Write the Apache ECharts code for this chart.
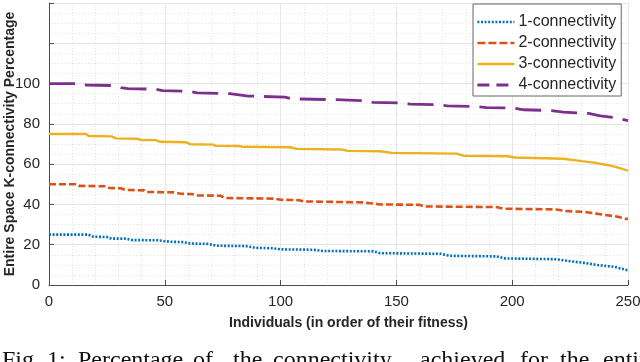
<!DOCTYPE html>
<html>
<head>
<meta charset="utf-8">
<script src="https://cdn.jsdelivr.net/npm/echarts@6/dist/echarts.min.js"></script>
<style>
html,body{margin:0;padding:0;background:#fff;}
#c{width:640px;height:362px;}
</style>
</head>
<body>
<div id="c"></div>
<script>
// Data: [individual index, percentage]
const seriesNames = ['1-connectivity', '2-connectivity', '3-connectivity', '4-connectivity'];

const conn1 = [[0,25],[17,25],[19,24],[25,23.8],[27,23],[33,23],[36,22.3],[47,22.2],[52,21.5],[58,21.3],[61,20.6],[69,20.4],[72,19.5],[85,19.3],[89,18.5],[97,18.2],[100,17.7],[114,17.5],[118,16.9],[140,16.7],[143,15.8],[169,15.5],[173,14.5],[193,14.2],[197,13.2],[219,12.8],[225,11.8],[231,11],[237,9.9],[244,9],[250,7.3]];

const conn2 = [[0,50],[12,50],[13,49.2],[25,49],[26,48.2],[31,48],[33,47.2],[41,47],[42,46.2],[54,46],[57,45.3],[62,45.1],[64,44.5],[74,44.3],[76,43.2],[97,42.9],[100,42.3],[108,42.1],[110,41.5],[136,41],[143,40],[160,39.8],[162,39],[193,38.7],[196,37.9],[219,37.5],[223,36.7],[231,36.3],[237,35.3],[245,34],[250,32.7]];

const conn3 = [[0,75],[16,75],[17,74],[27,73.8],[29,72.8],[38,72.6],[40,72],[46,71.9],[48,71.1],[59,70.9],[61,69.9],[71,69.7],[72,69.1],[82,69],[84,68.6],[104,68.4],[107,67.6],[126,67.3],[129,66.6],[143,66.4],[148,65.6],[176,65.2],[179,64.2],[198,63.9],[201,63.3],[222,62.7],[230,61.5],[236,60.6],[241,59.6],[245,58.5],[250,56.8]];

const conn4 = [[0,100],[13,100],[16,99.3],[28,99],[31,98],[34,97.5],[46,97.2],[49,96.5],[60,96.2],[64,95.4],[78,95],[86,93.8],[102,93.3],[105,92.4],[124,92],[136,91.5],[140,90.7],[152,90.4],[156,89.8],[169,89.5],[172,88.9],[184,88.6],[189,88.1],[201,87.8],[205,87],[217,86.6],[222,85.8],[233,85.2],[238,84],[245,83],[250,81.6]];

const xTicks = [0, 50, 100, 150, 200, 250];
const yTickLabels = [0, 20, 40, 60, 80, 100];

const xName = 'Individuals (in order of their fitness)';
const yName = 'Entire Space K-connectivity Percentage';
const captionWords = ['Fig.', '1:', 'Percentage', 'of', 'the', 'connectivity', 'achieved', 'for', 'the', 'entire'];
const captionX = [2, 47, 78, 193, 233, 273, 420, 520, 560, 603];

const chart = echarts.init(document.getElementById('c'), null, {renderer: 'canvas'});

const styles = [
  {color: '#0072BD', width: 2.6, type: [2, 1.6], legendType: [2, 1.6]},
  {color: '#D95319', width: 2.6, type: [7, 3], legendType: [8, 3]},
  {color: '#EDB120', width: 2.4, type: 'solid', legendType: 'solid'},
  {color: '#7E2F8E', width: 2.8, type: [26, 10], legendType: [12, 7]}
];
const allData = [conn1, conn2, conn3, conn4];

const captionGraphics = captionWords.map((w, i) => ({
  type: 'text',
  left: captionX[i],
  top: 349,
  style: {text: w, font: '24px "Liberation Serif"', fill: '#111'}
}));

chart.setOption({
  animation: false,
  backgroundColor: '#fff',
  grid: {left: 49, right: 12, top: 3, bottom: 77, containLabel: false, outerBoundsMode: 'none'},
  legend: {
    orient: 'vertical',
    left: 473, top: 4,
    padding: [10, 5, 3, 3],
    itemWidth: 37, itemHeight: 14, itemGap: 5,
    backgroundColor: '#fff',
    borderColor: '#666', borderWidth: 1, borderRadius: 0,
    textStyle: {fontFamily: 'Liberation Sans', fontSize: 16, color: '#262626', padding: [0, 0, 0, -1]},
    data: seriesNames.map((n, i) => ({
      name: n,
      lineStyle: {type: styles[i].legendType, width: styles[i].width, color: styles[i].color},
      itemStyle: {color: 'rgba(0,0,0,0)', borderColor: 'rgba(0,0,0,0)', borderWidth: 0, opacity: 0}
    }))
  },
  xAxis: {
    type: 'value', min: 0, max: 250, interval: 50,
    name: xName, nameLocation: 'middle', nameGap: 31,
    nameTextStyle: {fontFamily: 'Liberation Sans', fontWeight: 'bold', fontSize: 14, color: '#262626', padding: [0, 0, 0, 20]},
    axisLine: {show: true, onZero: false, lineStyle: {color: '#4d4d4d', width: 1}},
    axisTick: {show: true, inside: true, length: 5, lineStyle: {color: '#4d4d4d'}},
    axisLabel: {fontFamily: 'Liberation Sans', fontSize: 15, color: '#262626', margin: 9,
      formatter: v => xTicks.includes(v) ? String(v) : ''},
    splitLine: {show: true, lineStyle: {color: '#e6e6e6', width: 1}},
    minorTick: {show: false, splitNumber: 5},
    minorSplitLine: {show: true, lineStyle: {color: '#e2e2e2', width: 1, type: [1, 2]}}
  },
  yAxis: {
    type: 'value', min: 0, max: 140, interval: 20,
    name: yName, nameLocation: 'middle', nameGap: 32, nameMoveOverlap: false,
    nameTextStyle: {fontFamily: 'Liberation Sans', fontWeight: 'bold', fontSize: 14, color: '#262626'},
    axisLine: {show: true, onZero: false, lineStyle: {color: '#4d4d4d', width: 1}},
    axisTick: {show: true, inside: true, length: 5, lineStyle: {color: '#4d4d4d'}},
    axisLabel: {fontFamily: 'Liberation Sans', fontSize: 15, color: '#262626', margin: 9,
      formatter: v => yTickLabels.includes(v) ? String(v) : ''},
    splitLine: {show: true, lineStyle: {color: '#e6e6e6', width: 1}},
    minorTick: {show: false, splitNumber: 4},
    minorSplitLine: {show: true, lineStyle: {color: '#e2e2e2', width: 1, type: [1, 2]}}
  },
  series: seriesNames.map((n, i) => ({
    name: n, type: 'line', symbol: 'none', showSymbol: false,
    data: allData[i],
    lineStyle: {color: styles[i].color, width: styles[i].width, type: styles[i].type, cap: 'butt'},
    itemStyle: {color: styles[i].color},
    z: 2 + i
  })),
  graphic: captionGraphics
});
</script>
</body>
</html>
